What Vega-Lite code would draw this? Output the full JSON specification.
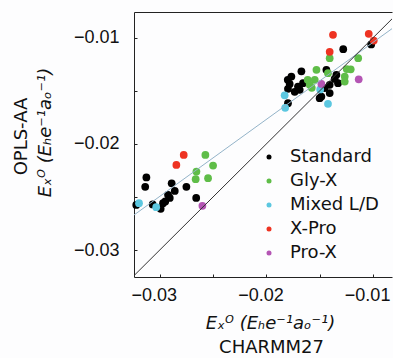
{
  "$schema": "https://vega.github.io/schema/vega-lite/v6.json",
  "width": 258,
  "height": 265,
  "autosize": {"type": "none"},
  "padding": {"left": 134, "top": 12, "right": 1, "bottom": 81},
  "background": "#fdfdfe",
  "config": {
    "view": {"stroke": null},
    "axis": {
      "grid": false,
      "labelFont": "Liberation Sans",
      "labelFontSize": 18,
      "labelColor": "#111111",
      "tickColor": "#222222",
      "domainColor": "#222222",
      "tickSize": -3,
      "labelFlush": false,
      "labelOverlap": false,
      "titleFont": "DejaVu Sans",
      "titleFontSize": 18,
      "titleFontWeight": "normal",
      "titleColor": "#111111",
      "minExtent": 0
    }
  },
  "datasets": {
    "points": [
      {"x": -0.03125, "y": -0.02316, "group": "Standard"},
      {"x": -0.03136, "y": -0.02405, "group": "Standard"},
      {"x": -0.02888, "y": -0.02372, "group": "Standard"},
      {"x": -0.02859, "y": -0.02443, "group": "Standard"},
      {"x": -0.0275, "y": -0.02405, "group": "Standard"},
      {"x": -0.02658, "y": -0.02509, "group": "Standard"},
      {"x": -0.02922, "y": -0.0248, "group": "Standard"},
      {"x": -0.02948, "y": -0.02542, "group": "Standard"},
      {"x": -0.02969, "y": -0.02559, "group": "Standard"},
      {"x": -0.02991, "y": -0.02612, "group": "Standard"},
      {"x": -0.03066, "y": -0.0257, "group": "Standard"},
      {"x": -0.0322, "y": -0.02575, "group": "Standard"},
      {"x": -0.02906, "y": -0.02509, "group": "Standard"},
      {"x": -0.01018, "y": -0.01063, "group": "Standard"},
      {"x": -0.0128, "y": -0.01108, "group": "Standard"},
      {"x": -0.01672, "y": -0.01317, "group": "Standard"},
      {"x": -0.01766, "y": -0.01366, "group": "Standard"},
      {"x": -0.018, "y": -0.01397, "group": "Standard"},
      {"x": -0.01782, "y": -0.01435, "group": "Standard"},
      {"x": -0.01704, "y": -0.0146, "group": "Standard"},
      {"x": -0.01735, "y": -0.0151, "group": "Standard"},
      {"x": -0.01798, "y": -0.01482, "group": "Standard"},
      {"x": -0.01657, "y": -0.01428, "group": "Standard"},
      {"x": -0.01688, "y": -0.01491, "group": "Standard"},
      {"x": -0.01438, "y": -0.01303, "group": "Standard"},
      {"x": -0.01344, "y": -0.0135, "group": "Standard"},
      {"x": -0.01329, "y": -0.01428, "group": "Standard"},
      {"x": -0.01454, "y": -0.01475, "group": "Standard"},
      {"x": -0.01407, "y": -0.01522, "group": "Standard"},
      {"x": -0.01485, "y": -0.01554, "group": "Standard"},
      {"x": -0.01501, "y": -0.0157, "group": "Standard"},
      {"x": -0.01798, "y": -0.01617, "group": "Standard"},
      {"x": -0.0136, "y": -0.01388, "group": "Standard"},
      {"x": -0.01407, "y": -0.01444, "group": "Standard"},
      {"x": -0.02572, "y": -0.02104, "group": "Gly-X"},
      {"x": -0.025, "y": -0.02204, "group": "Gly-X"},
      {"x": -0.02656, "y": -0.02261, "group": "Gly-X"},
      {"x": -0.02663, "y": -0.02333, "group": "Gly-X"},
      {"x": -0.02547, "y": -0.02323, "group": "Gly-X"},
      {"x": -0.01407, "y": -0.01193, "group": "Gly-X"},
      {"x": -0.0114, "y": -0.01193, "group": "Gly-X"},
      {"x": -0.01247, "y": -0.01296, "group": "Gly-X"},
      {"x": -0.0121, "y": -0.01298, "group": "Gly-X"},
      {"x": -0.01531, "y": -0.01303, "group": "Gly-X"},
      {"x": -0.01423, "y": -0.01334, "group": "Gly-X"},
      {"x": -0.01266, "y": -0.01366, "group": "Gly-X"},
      {"x": -0.01266, "y": -0.01413, "group": "Gly-X"},
      {"x": -0.01547, "y": -0.01397, "group": "Gly-X"},
      {"x": -0.01594, "y": -0.01444, "group": "Gly-X"},
      {"x": -0.01613, "y": -0.01397, "group": "Gly-X"},
      {"x": -0.01575, "y": -0.01472, "group": "Gly-X"},
      {"x": -0.03194, "y": -0.02559, "group": "Mixed L/D"},
      {"x": -0.03033, "y": -0.02596, "group": "Mixed L/D"},
      {"x": -0.01829, "y": -0.01543, "group": "Mixed L/D"},
      {"x": -0.01824, "y": -0.01661, "group": "Mixed L/D"},
      {"x": -0.01496, "y": -0.01487, "group": "Mixed L/D"},
      {"x": -0.01423, "y": -0.01623, "group": "Mixed L/D"},
      {"x": -0.02775, "y": -0.02104, "group": "X-Pro"},
      {"x": -0.02844, "y": -0.02198, "group": "X-Pro"},
      {"x": -0.01376, "y": -0.00973, "group": "X-Pro"},
      {"x": -0.01041, "y": -0.00964, "group": "X-Pro"},
      {"x": -0.00994, "y": -0.01027, "group": "X-Pro"},
      {"x": -0.01407, "y": -0.01133, "group": "X-Pro"},
      {"x": -0.026, "y": -0.02584, "group": "Pro-X"},
      {"x": -0.01485, "y": -0.01435, "group": "Pro-X"},
      {"x": -0.01135, "y": -0.01392, "group": "Pro-X"}
    ],
    "fit": [
      {"x": -0.03241, "y": -0.0267},
      {"x": -0.00823, "y": -0.00915}
    ],
    "diag": [
      {"x": -0.0326, "y": -0.0326},
      {"x": -0.0075, "y": -0.0075}
    ]
  },
  "resolve": {"axis": {"x": "independent", "y": "independent"}},
  "layer": [
    {
      "data": {"name": "points"},
      "mark": {"type": "circle", "size": 60, "opacity": 1},
      "encoding": {
        "x": {
          "field": "x", "type": "quantitative",
          "scale": {"domain": [-0.03241, -0.00823], "nice": false, "zero": false},
          "axis": {"orient": "top", "labels": false, "ticks": false, "title": null, "domain": true}
        },
        "y": {
          "field": "y", "type": "quantitative",
          "scale": {"domain": [-0.03254, -0.00758], "nice": false, "zero": false},
          "axis": null
        },
        "color": {
          "field": "group", "type": "nominal",
          "scale": {
            "domain": ["Standard", "Gly-X", "Mixed L/D", "X-Pro", "Pro-X"],
            "range": ["#000000", "#5fbd48", "#5cc7e0", "#ee3322", "#b455b4"]
          },
          "legend": {
            "title": null,
            "orient": "none",
            "legendX": 126,
            "legendY": 136,
            "padding": 0,
            "labelFont": "DejaVu Sans",
            "labelFontSize": 18,
            "labelColor": "#111111",
            "symbolType": "circle",
            "symbolSize": 25,
            "symbolStrokeWidth": 0,
            "labelOffset": 12,
            "rowPadding": 6
          }
        }
      }
    },
    {
      "data": {"name": "fit"},
      "mark": {"type": "line", "clip": true, "color": "#93b3c8", "strokeWidth": 1},
      "encoding": {
        "x": {
          "field": "x", "type": "quantitative",
          "scale": {"domain": [-0.03241, -0.00823], "nice": false, "zero": false},
          "axis": {
            "orient": "bottom",
            "values": [-0.03, -0.025, -0.02, -0.015, -0.01],
            "labelExpr": "abs(datum.value*100 - round(datum.value*100)) < 0.01 ? format(datum.value, '.2f') : ''",
            "labelPadding": 12,
            "labelOffset": -6,
            "title": "Eₓᴼ  (Eₕe⁻¹aₒ⁻¹)",
            "titleFontStyle": "italic",
            "titlePadding": 10,
            "titleX": 136
          }
        },
        "y": {
          "field": "y", "type": "quantitative",
          "scale": {"domain": [-0.03254, -0.00758], "nice": false, "zero": false},
          "axis": {
            "orient": "left",
            "values": [-0.03, -0.025, -0.02, -0.015, -0.01],
            "labelExpr": "abs(datum.value*100 - round(datum.value*100)) < 0.01 ? format(datum.value, '.2f') : ''",
            "labelPadding": 18,
            "title": "Eₓᴼ  (Eₕe⁻¹aₒ⁻¹)",
            "titleFontStyle": "italic",
            "titlePadding": 19,
            "titleY": 120
          }
        }
      }
    },
    {
      "data": {"name": "diag"},
      "mark": {"type": "line", "clip": true, "color": "#333333", "strokeWidth": 1},
      "encoding": {
        "x": {
          "field": "x", "type": "quantitative",
          "scale": {"domain": [-0.03241, -0.00823], "nice": false, "zero": false},
          "axis": {
            "orient": "bottom",
            "domain": false, "ticks": false, "labels": false,
            "title": "CHARMM27",
            "titlePadding": 61,
            "titleX": 137
          }
        },
        "y": {
          "field": "y", "type": "quantitative",
          "scale": {"domain": [-0.03254, -0.00758], "nice": false, "zero": false},
          "axis": {
            "orient": "left",
            "domain": false, "ticks": false, "labels": false,
            "title": "OPLS-AA",
            "titlePadding": 104,
            "titleY": 124
          }
        }
      }
    }
  ]
}
